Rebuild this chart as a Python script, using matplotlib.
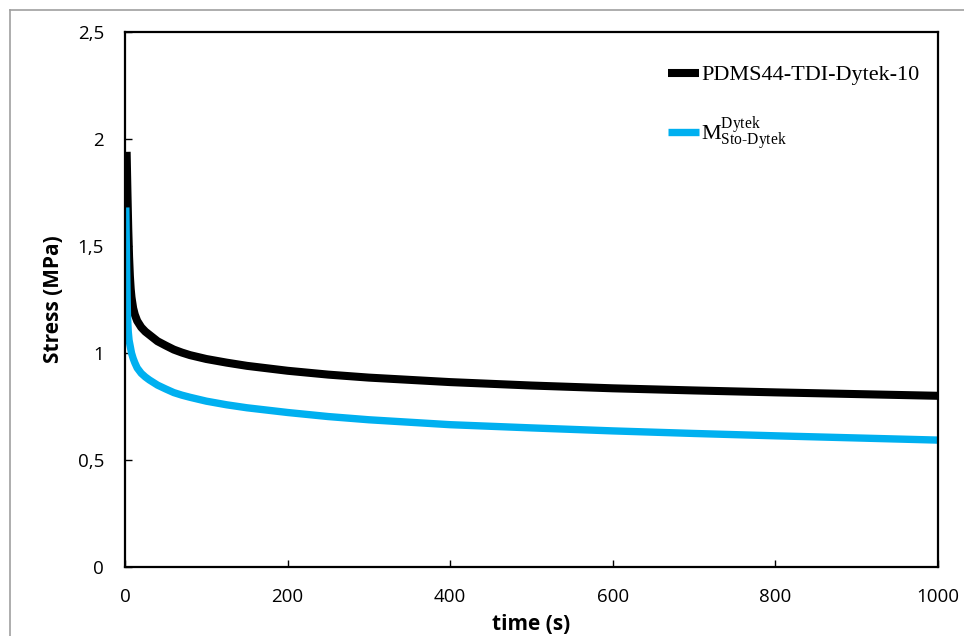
import matplotlib
matplotlib.use("Agg")
import matplotlib.pyplot as plt
from matplotlib.lines import Line2D

plt.rcParams['mathtext.fontset'] = 'custom'
plt.rcParams['mathtext.rm'] = 'Liberation Serif'
plt.rcParams['mathtext.it'] = 'Liberation Serif:italic'
plt.rcParams['mathtext.bf'] = 'Liberation Serif:bold'

# ---- data ----
t_black = [2, 3, 4, 5, 6, 7, 8, 10, 12, 15, 20, 25, 30, 40, 50, 60, 70, 80, 100,
           125, 150, 200, 250, 300, 400, 500, 600, 700, 800, 900, 1000]
s_black = [1.94, 1.75, 1.58, 1.45, 1.36, 1.30, 1.26, 1.21, 1.18, 1.15, 1.12, 1.10,
           1.085, 1.055, 1.035, 1.016, 1.002, 0.99, 0.972, 0.955, 0.94, 0.917, 0.899,
           0.885, 0.864, 0.848, 0.835, 0.825, 0.816, 0.808, 0.80]
t_blue = [1, 2, 3, 4, 5, 6, 7, 8, 10, 12, 15, 20, 25, 30, 40, 50, 60, 70, 80, 100,
          125, 150, 200, 250, 300, 400, 500, 600, 700, 800, 900, 1000]
s_blue = [1.68, 1.40, 1.18, 1.10, 1.06, 1.04, 1.02, 1.00, 0.975, 0.955, 0.93, 0.905,
          0.888, 0.874, 0.85, 0.832, 0.815, 0.803, 0.793, 0.775, 0.758, 0.744, 0.722,
          0.703, 0.688, 0.665, 0.65, 0.636, 0.624, 0.613, 0.603, 0.593]
label_black = 'PDMS44-TDI-Dytek-10'
label_blue = r'$\mathrm{M}^{\text{Dytek}}_{\text{Sto-Dytek}}$'
x_ticks = [0, 200, 400, 600, 800, 1000]
x_ticklabels = ['0', '200', '400', '600', '800', '1000']
y_ticks = [0, 0.5, 1, 1.5, 2, 2.5]
y_ticklabels = ['0', '0,5', '1', '1,5', '2', '2,5']

fig = plt.figure(figsize=(9.64, 6.36), dpi=100)
ax = fig.add_axes([125/964, 1-567/636, (938-125)/964, (567-32)/636])

ax.plot(t_black, s_black, color='black', lw=5.8, solid_capstyle='butt',
        solid_joinstyle='round', label=label_black)
ax.plot(t_blue, s_blue, color='#00B0F0', lw=5.3, solid_capstyle='butt',
        solid_joinstyle='round', label=label_blue)

ax.set_xlim(0, 1000)
ax.set_ylim(0, 2.5)
ax.set_xticks(x_ticks)
ax.set_xticklabels(x_ticklabels)
ax.set_yticks(y_ticks)
ax.set_yticklabels(y_ticklabels)
for sp in ax.spines.values():
    sp.set_linewidth(1.6)
ax.tick_params(direction='in', length=5, width=1, labelsize=13.5, colors='black')
ax.tick_params(axis='y', pad=15)
ax.tick_params(axis='x', pad=15)
for lab in ax.get_xticklabels() + ax.get_yticklabels():
    lab.set_family('Open Sans')

ax.set_xlabel('time (s)', fontsize=15, fontweight='bold', family='Open Sans', labelpad=6)
ax.set_ylabel('Stress (MPa)', fontsize=15, fontweight='bold', family='Open Sans', labelpad=10)

leg = ax.legend(loc='upper left', bbox_to_anchor=(0.643, 0.976), frameon=False,
                prop={'family': 'Liberation Serif', 'size': 16},
                handlelength=1.4, handletextpad=0.1, labelspacing=1.3)

# outer gray frame
fig.add_artist(Line2D([9.5/964, 9.5/964], [0, 1-9.5/636], color='#A0A0A0', lw=1.2,
                      transform=fig.transFigure))
fig.add_artist(Line2D([9.5/964, 1], [1-9.5/636, 1-9.5/636], color='#A0A0A0', lw=1.2,
                      transform=fig.transFigure))

fig.savefig('out.png', dpi=100)
